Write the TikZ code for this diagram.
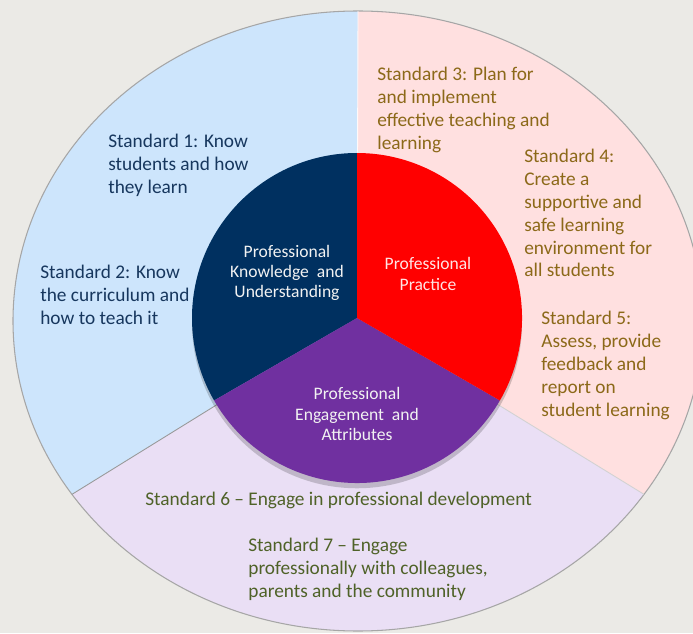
\documentclass[tikz,border=0pt]{standalone}
\usepackage{fontspec}
\setmainfont{Carlito}
\definecolor{bggrey}{RGB}{235,234,230}
\definecolor{ringblue}{RGB}{205,229,252}
\definecolor{ringpink}{RGB}{255,224,224}
\definecolor{ringlav}{RGB}{234,223,245}
\definecolor{corenavy}{RGB}{0,48,96}
\definecolor{corered}{RGB}{255,0,0}
\definecolor{corepurple}{RGB}{112,48,160}
\definecolor{txtblue}{RGB}{23,55,94}
\definecolor{txtgold}{RGB}{140,105,25}
\definecolor{txtgreen}{RGB}{79,98,40}

\begin{document}
\begin{tikzpicture}[x=0.02cm,y=0.02cm,
  stdtext/.style={anchor=north west,align=left,inner sep=0pt,font=\fontsize{11}{13}\selectfont},
  coretext/.style={align=center,inner sep=0pt,font=\fontsize{10}{11.6}\selectfont}]
\useasboundingbox (0,0) rectangle (693,633);
\clip (0,0) rectangle (693,633);
\fill[bggrey] (0,0) rectangle (693,633);

% outer ring
\coordinate (o) at (358,312);
\coordinate (c) at (357,315);
\coordinate (ringtop) at ([shift={(90:345 and 310)}]o);
\coordinate (ringleft) at ([shift={(214:345 and 310)}]o);
\coordinate (ringright) at ([shift={(326:345 and 310)}]o);
\fill[ringlav] (o) ellipse [x radius=345,y radius=310];
\fill[ringblue] (c) -- (ringtop) arc[start angle=90,end angle=214,x radius=345,y radius=310] -- cycle;
\fill[ringpink] (c) -- (ringright) arc[start angle=-34,end angle=90,x radius=345,y radius=310] -- cycle;
\draw[gray!70,line width=0.6pt] (o) ellipse [x radius=345,y radius=310];
\draw[gray!80,line width=0.5pt] (c) -- (ringleft);
\draw[gray!35,line width=0.5pt] (c) -- (ringright);
\draw[white!80!ringpink,line width=0.5pt] (c) -- (ringtop);

% core
\fill[black,opacity=0.18] ([yshift=-3]c) circle (165);
\fill[corenavy] (c) -- ++(90:165) arc[start angle=90,end angle=210,radius=165] -- cycle;
\fill[corepurple] (c) -- ++(210:165) arc[start angle=210,end angle=330,radius=165] -- cycle;
\fill[corered] (c) -- ++(330:165) arc[start angle=330,end angle=450,radius=165] -- cycle;

\node (pku) at (287,360) [coretext,text=white!95!black] {Professional\\Knowledge~~and\\Understanding};
\node (pp) at (428,359) [coretext,text=white!90!red] {Professional\\Practice};
\node (pea) at (357,219) [coretext,text=white!95!black] {Professional\\Engagement~~and\\Attributes};

\node (s1) at (108,499) [stdtext,text=txtblue] {Standard 1: Know\\students and how\\they learn};
\node (s2) at (40,368) [stdtext,text=txtblue] {Standard 2: Know\\the curriculum and\\how to teach it};
\node (s3) at (377,566) [stdtext,text=txtgold] {Standard 3: Plan for\\and implement\\effective teaching and\\learning};
\node (s4) at (524,484) [stdtext,text=txtgold] {Standard 4:\\Create a\\supportive and\\safe learning\\environment for\\all students};
\node (s5) at (541,322) [stdtext,text=txtgold] {Standard 5:\\Assess, provide\\feedback and\\report on\\student learning};
\node (s6) at (145,133) [stdtext,anchor=west,text=txtgreen] {Standard 6 -- Engage in professional development};
\node (s7) at (248,95) [stdtext,text=txtgreen] {Standard 7 -- Engage\\professionally with colleagues,\\parents and the community};
\end{tikzpicture}
\end{document}
